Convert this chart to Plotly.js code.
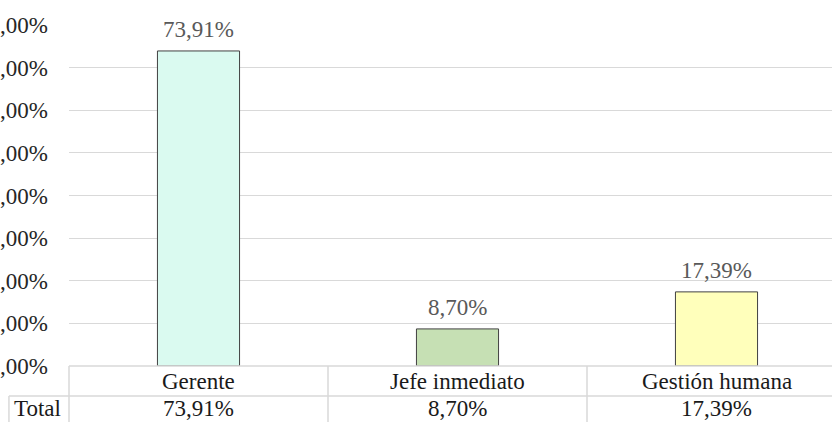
<!DOCTYPE html>
<html>
<head>
<meta charset="utf-8">
<script src="https://cdn.plot.ly/plotly-3.0.1.min.js"></script>
<style>
html,body{margin:0;padding:0;background:#fff;overflow:hidden;width:832px;height:422px;}
#chart{width:852px;height:422px;}
</style>
</head>
<body>
<div id="chart"></div>
<script>
const categories = ["Gerente", "Jefe inmediato", "Gestión humana"];
const values = [73.91, 8.70, 17.39];
const rowLabel = "Total";
const barColors = ["#DAFAF0", "#C6E0B4", "#FFFFBB"];
const yTicks = [0, 10, 20, 30, 40, 50, 60, 70, 80];

const fmt = v => v.toFixed(2).replace('.', ',') + '%';
const yTickText = yTicks.map(fmt);
const FONT = 'Liberation Serif';
const FS = 23;

const trace = {
  type: 'bar',
  x: categories,
  y: values,
  marker: {color: barColors, line: {color: '#404040', width: 1}},
  hoverinfo: 'none'
};

const annotations = [];
categories.forEach((c, i) => {
  annotations.push({x: c, y: values[i], xref: 'x', yref: 'y', text: fmt(values[i]),
    showarrow: false, yanchor: 'middle', yshift: 21,
    font: {family: FONT, size: FS, color: '#595959'}});
  annotations.push({x: c, y: -0.044, xref: 'x', yref: 'paper', text: c,
    showarrow: false, yanchor: 'middle',
    font: {family: FONT, size: FS, color: '#1a1a1a'}});
  annotations.push({x: c, y: -0.126, xref: 'x', yref: 'paper', text: fmt(values[i]),
    showarrow: false, yanchor: 'middle',
    font: {family: FONT, size: FS, color: '#1a1a1a'}});
});
annotations.push({x: -0.073, y: -0.126, xref: 'paper', yref: 'paper', text: rowLabel,
  showarrow: false, xanchor: 'left', yanchor: 'middle',
  font: {family: FONT, size: FS, color: '#1a1a1a'}});

const lc = {color: '#d9d9d9', width: 1.5};
const shapes = [
  {type: 'line', xref: 'paper', yref: 'paper', x0: 0, x1: 1.1, y0: 0, y1: 0, line: lc},
  {type: 'line', xref: 'paper', yref: 'paper', x0: -0.0773, x1: 1.1, y0: -0.088, y1: -0.088, line: lc},
  {type: 'line', xref: 'paper', yref: 'paper', x0: 0, x1: 0, y0: 0, y1: -0.2, line: lc},
  {type: 'line', xref: 'paper', yref: 'paper', x0: -0.0773, x1: -0.0773, y0: -0.088, y1: -0.2, line: lc},
  {type: 'line', xref: 'x', yref: 'paper', x0: 0.5, x1: 0.5, y0: 0, y1: -0.2, line: lc},
  {type: 'line', xref: 'x', yref: 'paper', x0: 1.5, x1: 1.5, y0: 0, y1: -0.2, line: lc}
];

const layout = {
  width: 852, height: 422,
  margin: {l: 69, r: 6, t: 25, b: 56},
  paper_bgcolor: '#ffffff', plot_bgcolor: '#ffffff',
  font: {family: FONT},
  showlegend: false,
  bargap: 0.683,
  xaxis: {showticklabels: false, showgrid: false, zeroline: false, showline: false, ticks: ''},
  yaxis: {range: [0, 80], tickmode: 'array', tickvals: yTicks, ticktext: yTickText,
    showgrid: true, gridcolor: '#d9d9d9', gridwidth: 1, zeroline: false, showline: false,
    ticks: '', ticklabelstandoff: 20,
    tickfont: {family: FONT, size: FS, color: '#262626'}},
  annotations: annotations,
  shapes: shapes
};

Plotly.newPlot('chart', [trace], layout, {displayModeBar: false});
</script>
</body>
</html>
